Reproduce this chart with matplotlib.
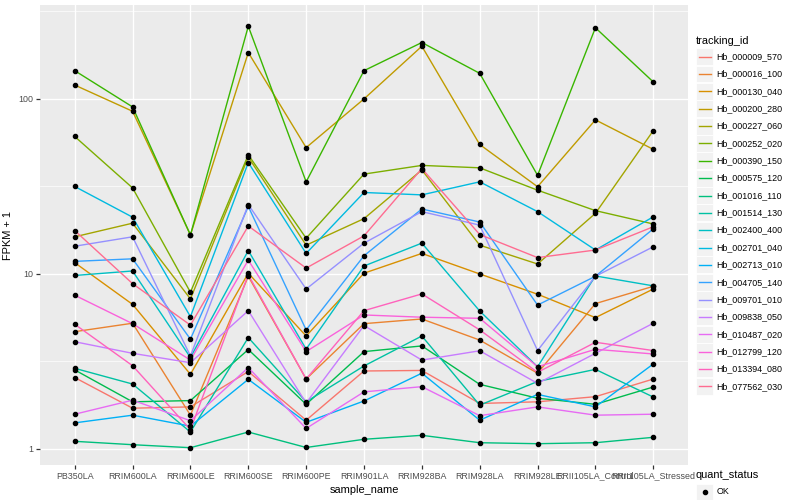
import matplotlib
matplotlib.use("Agg")
import matplotlib.pyplot as plt
from matplotlib.patches import Rectangle
from matplotlib.lines import Line2D
from matplotlib.ticker import FixedLocator, NullFormatter

plt.rcParams['font.family'] = ['Liberation Sans', 'DejaVu Sans']

samples = ["PB350LA", "RRIM600LA", "RRIM600LE", "RRIM600SE", "RRIM600PE",
           "RRIM901LA", "RRIM928BA", "RRIM928LA", "RRIM928LE",
           "RRII105LA_Control", "RRII105LA_Stressed"]

tracking_ids = ["Hb_000009_570", "Hb_000016_100", "Hb_000130_040", "Hb_000200_280",
                "Hb_000227_060", "Hb_000252_020", "Hb_000390_150", "Hb_000575_120",
                "Hb_001016_110", "Hb_001514_130", "Hb_002400_400", "Hb_002701_040",
                "Hb_002713_010", "Hb_004705_140", "Hb_009701_010", "Hb_009838_050",
                "Hb_010487_020", "Hb_012799_120", "Hb_013394_080", "Hb_077562_030"]

palette = ["#F8766D", "#EA8331", "#D89000", "#C09B00", "#A3A500", "#7CAE00",
           "#39B600", "#00BB4E", "#00BF7D", "#00C1A3", "#00BFC4", "#00BAE0",
           "#00B0F6", "#35A2FF", "#9590FF", "#C77CFF", "#E76BF3", "#FA62DB",
           "#FF62BC", "#FF6C91"]

# FPKM + 1 per sample
hb_000009_570 = [2.56, 1.71, 1.74, 2.77, 1.46, 2.79, 2.81, 1.82, 1.86, 1.99, 2.51]
hb_000016_100 = [4.68, 5.23, 1.56, 9.7, 2.51, 5.2, 5.53, 4.19, 2.71, 6.77, 8.5]
hb_000130_040 = [11.6, 6.7, 2.67, 10.1, 4.42, 10.1, 13.1, 10.0, 7.66, 5.63, 8.2]
hb_000200_280 = [120, 85, 16.7, 184, 52.7, 100, 200, 54.9, 31.5, 75.9, 51.5]
hb_000227_060 = [16.3, 19.5, 7.2, 46.5, 14.6, 20.7, 39.3, 14.6, 11.4, 22.2, 65.9]
hb_000252_020 = [61, 31, 7.86, 47.9, 16.0, 37.2, 41.7, 40.4, 30.1, 23.0, 19.3]
hb_000390_150 = [145, 90, 16.7, 260, 33.6, 145, 210, 140, 36.6, 255, 125]
hb_000575_120 = [2.83, 1.86, 1.89, 3.7, 1.80, 3.6, 3.88, 2.34, 1.95, 1.80, 2.26]
hb_001016_110 = [1.106, 1.058, 1.017, 1.25, 1.02, 1.136, 1.197, 1.086, 1.072, 1.086, 1.166]
hb_001514_130 = [2.89, 2.35, 1.25, 4.33, 1.86, 2.98, 4.42, 1.78, 2.43, 2.85, 1.98]
hb_002400_400 = [9.8, 10.4, 3.33, 13.6, 3.72, 11.1, 15.0, 6.14, 2.95, 9.74, 8.55]
hb_002701_040 = [31.6, 21.1, 5.7, 43.3, 13.1, 29.2, 28.3, 33.6, 22.7, 13.7, 21.2]
hb_002713_010 = [1.41, 1.56, 1.35, 2.5, 1.42, 1.88, 2.71, 1.46, 2.05, 1.74, 3.06]
hb_004705_140 = [11.8, 12.2, 4.24, 24.3, 4.79, 12.7, 23.5, 19.8, 6.64, 9.7, 18.1]
hb_009701_010 = [14.4, 16.3, 3.4, 24.9, 8.2, 15.0, 22.7, 19.0, 3.65, 9.7, 14.3]
hb_009838_050 = [4.1, 3.52, 3.11, 6.17, 1.83, 5.07, 3.22, 3.64, 2.37, 3.52, 5.23]
hb_010487_020 = [1.58, 1.9, 1.45, 2.92, 1.31, 2.12, 2.27, 1.55, 1.74, 1.56, 1.58]
hb_012799_120 = [7.56, 5.2, 3.22, 12.0, 3.6, 5.83, 5.66, 5.58, 2.95, 3.71, 3.49]
hb_013394_080 = [5.16, 2.99, 1.29, 9.9, 2.51, 6.17, 7.69, 4.79, 2.74, 4.07, 3.65]
hb_077562_030 = [17.7, 8.8, 5.1, 18.8, 10.8, 16.5, 40.0, 16.8, 12.4, 13.7, 18.6]

series = [hb_000009_570, hb_000016_100, hb_000130_040, hb_000200_280, hb_000227_060,
          hb_000252_020, hb_000390_150, hb_000575_120, hb_001016_110, hb_001514_130,
          hb_002400_400, hb_002701_040, hb_002713_010, hb_004705_140, hb_009701_010,
          hb_009838_050, hb_010487_020, hb_012799_120, hb_013394_080, hb_077562_030]

y_ticks = [1, 10, 100]
y_tick_labels = ["1", "10", "100"]

W, H = 800, 500
fig = plt.figure(figsize=(8, 5), dpi=100)
fig.patch.set_facecolor("white")

def fx(px):
    return px / W

def fy(py):
    return 1 - py / H

ax = fig.add_axes([fx(40), fy(465), (688 - 40) / W, 460 / H])
ax.set_facecolor("#EBEBEB")
for s in ax.spines.values():
    s.set_visible(False)

x = list(range(len(samples)))
for vals, col in zip(series, palette):
    ax.plot(x, vals, color=col, lw=1.0, zorder=2, solid_capstyle="butt")
for vals in series:
    ax.plot(x, vals, linestyle="none", marker="o", ms=3.0, color="black", zorder=3)

ax.set_yscale("log")
ax.set_ylim(0.81, 344)
ax.set_xlim(-0.6, len(samples) - 1 + 0.6)
ax.yaxis.set_major_locator(FixedLocator(y_ticks))
ax.set_yticklabels(y_tick_labels)
ax.yaxis.set_minor_locator(FixedLocator([10 ** 0.5, 10 ** 1.5, 10 ** 2.5]))
ax.yaxis.set_minor_formatter(NullFormatter())
ax.set_xticks(x)
ax.set_xticklabels(samples)

ax.grid(True, which="major", color="white", lw=1.0, zorder=0)
ax.grid(True, which="minor", axis="y", color="white", lw=0.5, zorder=0)
ax.set_axisbelow(True)
ax.tick_params(axis="both", which="major", length=2.8, width=0.9, color="#333333",
               labelcolor="#4D4D4D", labelsize=6.4, pad=2)
ax.tick_params(axis="y", which="minor", length=0)

ax.set_xlabel("sample_name", fontsize=7.9, color="black", labelpad=3)
ax.set_ylabel("FPKM + 1", fontsize=7.9, color="black", labelpad=4)

# Legend: tracking_id
fig.text(fx(696), fy(41), "tracking_id", fontsize=7.9, va="center", ha="left")
row0, step = 56.7, 17.35
for i, (tid, col) in enumerate(zip(tracking_ids, palette)):
    cy = row0 + step * i
    fig.patches.append(Rectangle((fx(696), fy(cy + 8.4)), 17 / W, 16.8 / H,
                                 transform=fig.transFigure, facecolor="#F2F2F2",
                                 edgecolor="white", lw=0.6))
    fig.lines.append(Line2D([fx(698.5), fx(711)], [fy(cy), fy(cy)],
                            transform=fig.transFigure, color=col, lw=1.0))
    fig.text(fx(716.5), fy(cy), tid, fontsize=6.4, va="center", ha="left")

# Legend: quant_status
fig.text(fx(696), fy(475), "quant_status", fontsize=7.9, va="center", ha="left")
cy = 492
fig.patches.append(Rectangle((fx(696), fy(cy + 8.4)), 17 / W, 16.8 / H,
                             transform=fig.transFigure, facecolor="#F2F2F2",
                             edgecolor="white", lw=0.6))
fig.lines.append(Line2D([fx(704.5)], [fy(cy)], transform=fig.transFigure,
                        marker="o", ms=3.0, color="black", linestyle="none"))
fig.text(fx(716.5), fy(cy), "OK", fontsize=6.4, va="center", ha="left")

fig.savefig("out.png", dpi=100, facecolor="white")
